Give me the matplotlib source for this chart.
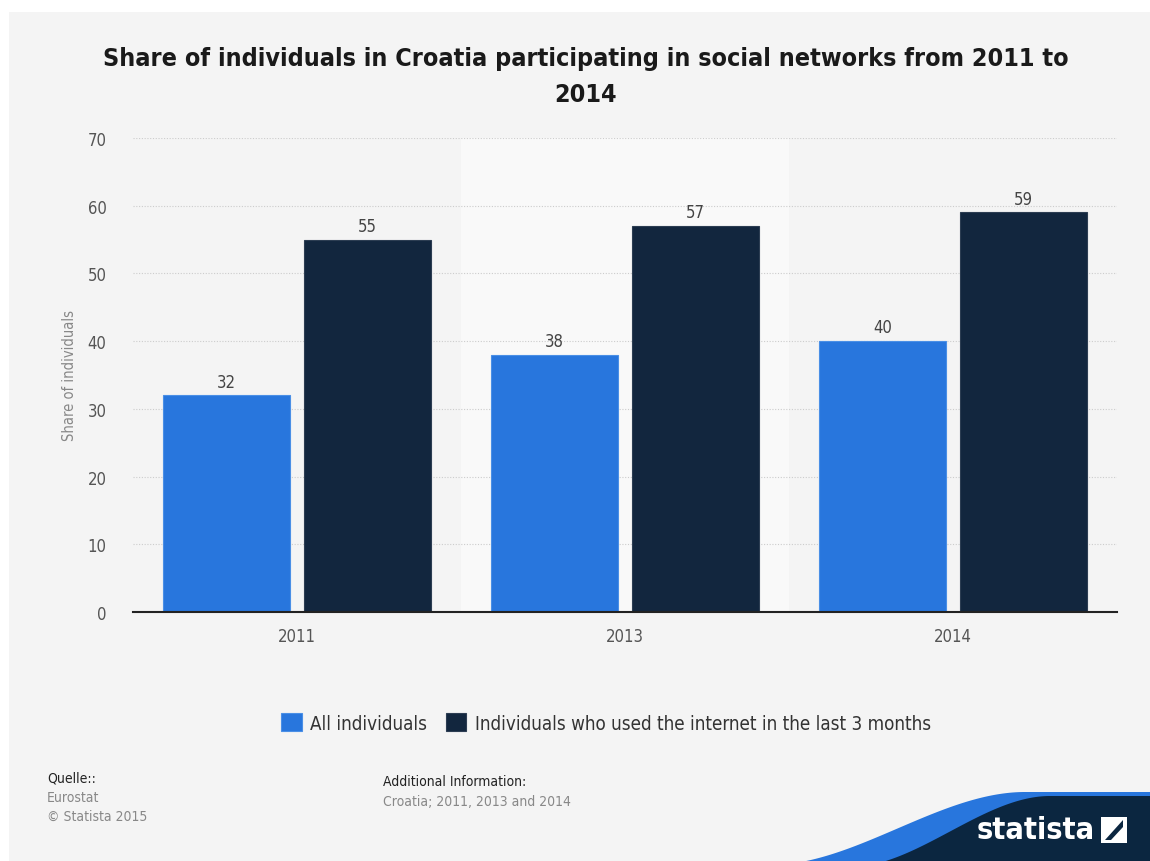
import matplotlib
matplotlib.use("Agg")
import matplotlib.pyplot as plt
import numpy as np
from matplotlib.patches import Rectangle, Polygon
from matplotlib import font_manager as fm

years = ["2011", "2013", "2014"]
all_individuals = [32, 38, 40]
internet_users = [55, 57, 59]
series_names = ["All individuals", "Individuals who used the internet in the last 3 months"]
y_ticks = [0, 10, 20, 30, 40, 50, 60, 70]

BG = "#f4f4f4"
BLUE = "#2876dd"
NAVY = "#12263e"

cond = None
for f in fm.fontManager.ttflist:
    if "DejaVu" in f.name and "ondensed" in (f.fname + str(f.stretch)):
        cond = f
        break
FAM = ["DejaVu Sans"]
STRETCH = "condensed" if cond is not None else "normal"
plt.rcParams["font.family"] = FAM
plt.rcParams["font.stretch"] = STRETCH

W, H = 1150, 862
fig = plt.figure(figsize=(W / 100, H / 100), dpi=100)
fig.patch.set_facecolor("white")
fig.patches.append(Rectangle((9 / W, 0), 1 - 9 / W, 1 - 13 / H, transform=fig.transFigure,
                             facecolor=BG, edgecolor="none", zorder=-10))

ax = fig.add_axes([133 / W, 249 / H, (1117 - 133) / W, (723 - 249) / H])
ax.set_facecolor(BG)
x = np.arange(len(years))
ax.axvspan(0.5, 1.5, color="#f9f9f9", zorder=0, lw=0)
for t in y_ticks[1:]:
    ax.axhline(t, color="#cccccc", lw=0.8, ls=(0, (1, 1.5)), zorder=1)

w = 0.39
off = 0.215
b1 = ax.bar(x - off, all_individuals, w, color=BLUE, edgecolor="#4a8fe6", lw=0.8, zorder=3, label=series_names[0])
b2 = ax.bar(x + off, internet_users, w, color=NAVY, edgecolor="#2c3d52", lw=0.8, zorder=3, label=series_names[1])
for bars, vals in ((b1, all_individuals), (b2, internet_users)):
    for r, v in zip(bars, vals):
        ax.text(r.get_x() + r.get_width() / 2, v + 0.7, f"{v}", ha="center", va="bottom",
                fontsize=12, color="#444444", zorder=4)

ax.set_xlim(-0.5, 2.5)
ax.set_ylim(0, 70)
ax.set_yticks(y_ticks)
ax.set_xticks(x)
ax.set_xticklabels(years)
ax.tick_params(axis="both", length=0, labelsize=12, colors="#555555")
ax.tick_params(axis="y", pad=19)
ax.tick_params(axis="x", pad=11)
for s in ["top", "right", "left"]:
    ax.spines[s].set_visible(False)
ax.spines["bottom"].set_color("#222222")
ax.spines["bottom"].set_linewidth(1.5)
ax.spines["bottom"].set_zorder(5)
ax.set_ylabel("Share of individuals", fontsize=10.5, color="#888888")
ax.yaxis.set_label_coords(-56 / (1117 - 133), 0.5)

fig.text(586 / W, 1 - 77 / H, "Share of individuals in Croatia participating in social networks from 2011 to\n2014",
         ha="center", va="center", fontsize=18, fontweight="bold", color="#1a1a1a", linespacing=1.65)

leg = fig.legend(handles=[b1, b2], labels=series_names, loc="center", bbox_to_anchor=(606 / W, 1 - 724 / H),
                 ncol=2, frameon=False, fontsize=13.5, handlelength=1.1, handleheight=1.1,
                 handletextpad=0.45, columnspacing=1.0, labelcolor="#333333")

fig.text(47 / W, 1 - 779 / H, "Quelle::", fontsize=10, color="#222222", va="center")
fig.text(47 / W, 1 - 798 / H, "Eurostat", fontsize=10, color="#888888", va="center")
fig.text(47 / W, 1 - 817 / H, "© Statista 2015", fontsize=10, color="#888888", va="center")
fig.text(383 / W, 1 - 782 / H, "Additional Information:", fontsize=10, color="#222222", va="center")
fig.text(383 / W, 1 - 802 / H, "Croatia; 2011, 2013 and 2014", fontsize=10, color="#888888", va="center")

# statista logo swoosh
xs = np.linspace(760, 1150, 300)
def curve(xv, x0, x1, y0, y1):
    t = np.clip((xv - x0) / (x1 - x0), 0, 1)
    s = t * t * (3 - 2 * t)
    return y0 + (y1 - y0) * s
ytop = curve(xs, 770, 1025, 866, 793)
ynav = curve(xs, 850, 1050, 868, 797)
top_pts = [(xv / W, 1 - yv / H) for xv, yv in zip(xs, ytop)]
fig.patches.append(Polygon(top_pts + [(1, 0), (760 / W, 0)], closed=True, transform=fig.transFigure,
                           facecolor=BLUE, edgecolor="none", zorder=-5))
nav_pts = [(xv / W, 1 - yv / H) for xv, yv in zip(xs, ynav)]
fig.patches.append(Polygon(nav_pts + [(1, 0), (760 / W, 0)], closed=True, transform=fig.transFigure,
                           facecolor="#0b2640", edgecolor="none", zorder=-4))
fig.text(1036 / W, 1 - 831 / H, "statista", fontsize=22, fontweight="bold", color="white",
         ha="center", va="center")
lx, ly, ls = 1101, 818, 26
fig.patches.append(Rectangle((lx / W, 1 - (ly + ls) / H), ls / W, ls / H, transform=fig.transFigure,
                             facecolor="white", edgecolor="none", zorder=-3))
fig.patches.append(Polygon([((lx + 4) / W, 1 - (ly + ls - 3) / H), ((lx + ls - 4) / W, 1 - (ly + 3) / H),
                            ((lx + ls - 4) / W, 1 - (ly + 10) / H), ((lx + 10) / W, 1 - (ly + ls - 3) / H)],
                           closed=True, transform=fig.transFigure, facecolor="#0b2640", edgecolor="none", zorder=-2))

fig.savefig("out.png", dpi=100, facecolor=fig.get_facecolor())
